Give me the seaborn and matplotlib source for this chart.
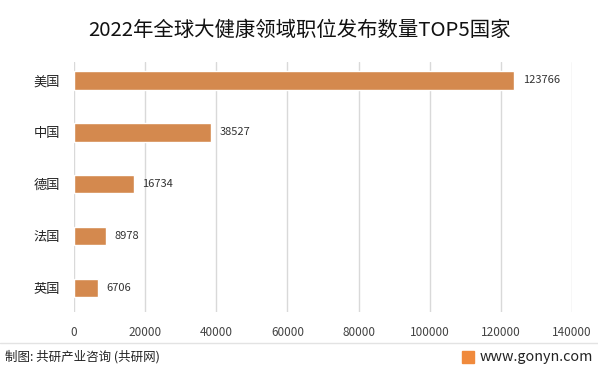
import matplotlib
matplotlib.use('Agg')
import matplotlib.pyplot as plt
import seaborn as sns
import pandas as pd
from matplotlib.patches import Rectangle
from matplotlib.lines import Line2D

countries = ['美国', '中国', '德国', '法国', '英国']
jobs = [123766, 38527, 16734, 8978, 6706]
xticks = [0, 20000, 40000, 60000, 80000, 100000, 120000, 140000]

sns.set_style('white')
plt.rcParams['font.family'] = ['Noto Sans CJK SC', 'DejaVu Sans']

df = pd.DataFrame({'country': countries, 'jobs': jobs})

fig = plt.figure(figsize=(5.98, 3.75), dpi=100)
ax = fig.add_axes([74 / 598, 1 - 312 / 375, (572 - 74) / 598, (312 - 62) / 375])

sns.barplot(data=df, x='jobs', y='country', orient='h', color='#D4894E',
            width=0.36, saturation=1, ax=ax, zorder=3)

ax.set_xlim(0, 140000)
ax.set_ylim(4.46, -0.35)
ax.set_xticks(xticks)
ax.set_xticklabels([str(v) for v in xticks], fontsize=8.5, color='#444444')
ax.tick_params(axis='x', length=0, pad=10)
ax.tick_params(axis='y', length=0, pad=10, labelsize=9.5, labelcolor='#222222')
ax.set_xlabel('')
ax.set_ylabel('')
ax.grid(axis='x', color='#d9d9d9', linewidth=1, zorder=0)
for s in ax.spines.values():
    s.set_visible(False)

for i, v in enumerate(jobs):
    ax.annotate(str(v), (v, i), xytext=(6, 0), textcoords='offset points',
                va='center', ha='left', fontsize=8, color='#333333')

fig.text(0.5, 1 - 30 / 375, '2022年全球大健康领域职位发布数量TOP5国家',
         ha='center', va='center', fontsize=14.7, color='#111111')

fig.add_artist(Line2D([0, 1], [1 - 343 / 375] * 2, color='#e3e3e3', lw=1,
                      transform=fig.transFigure))
fig.text(5 / 598, 1 - 357 / 375, '制图: 共研产业咨询 (共研网)',
         ha='left', va='center', fontsize=9, color='#222222')
fig.text(593 / 598, 1 - 357 / 375, 'www.gonyn.com',
         ha='right', va='center', fontsize=10.3, color='#222222')
fig.add_artist(Rectangle((462 / 598, 1 - 363 / 375), 12 / 598, 12 / 375,
                         color='#F08A3C', transform=fig.transFigure))

fig.savefig('out.png', dpi=100)
